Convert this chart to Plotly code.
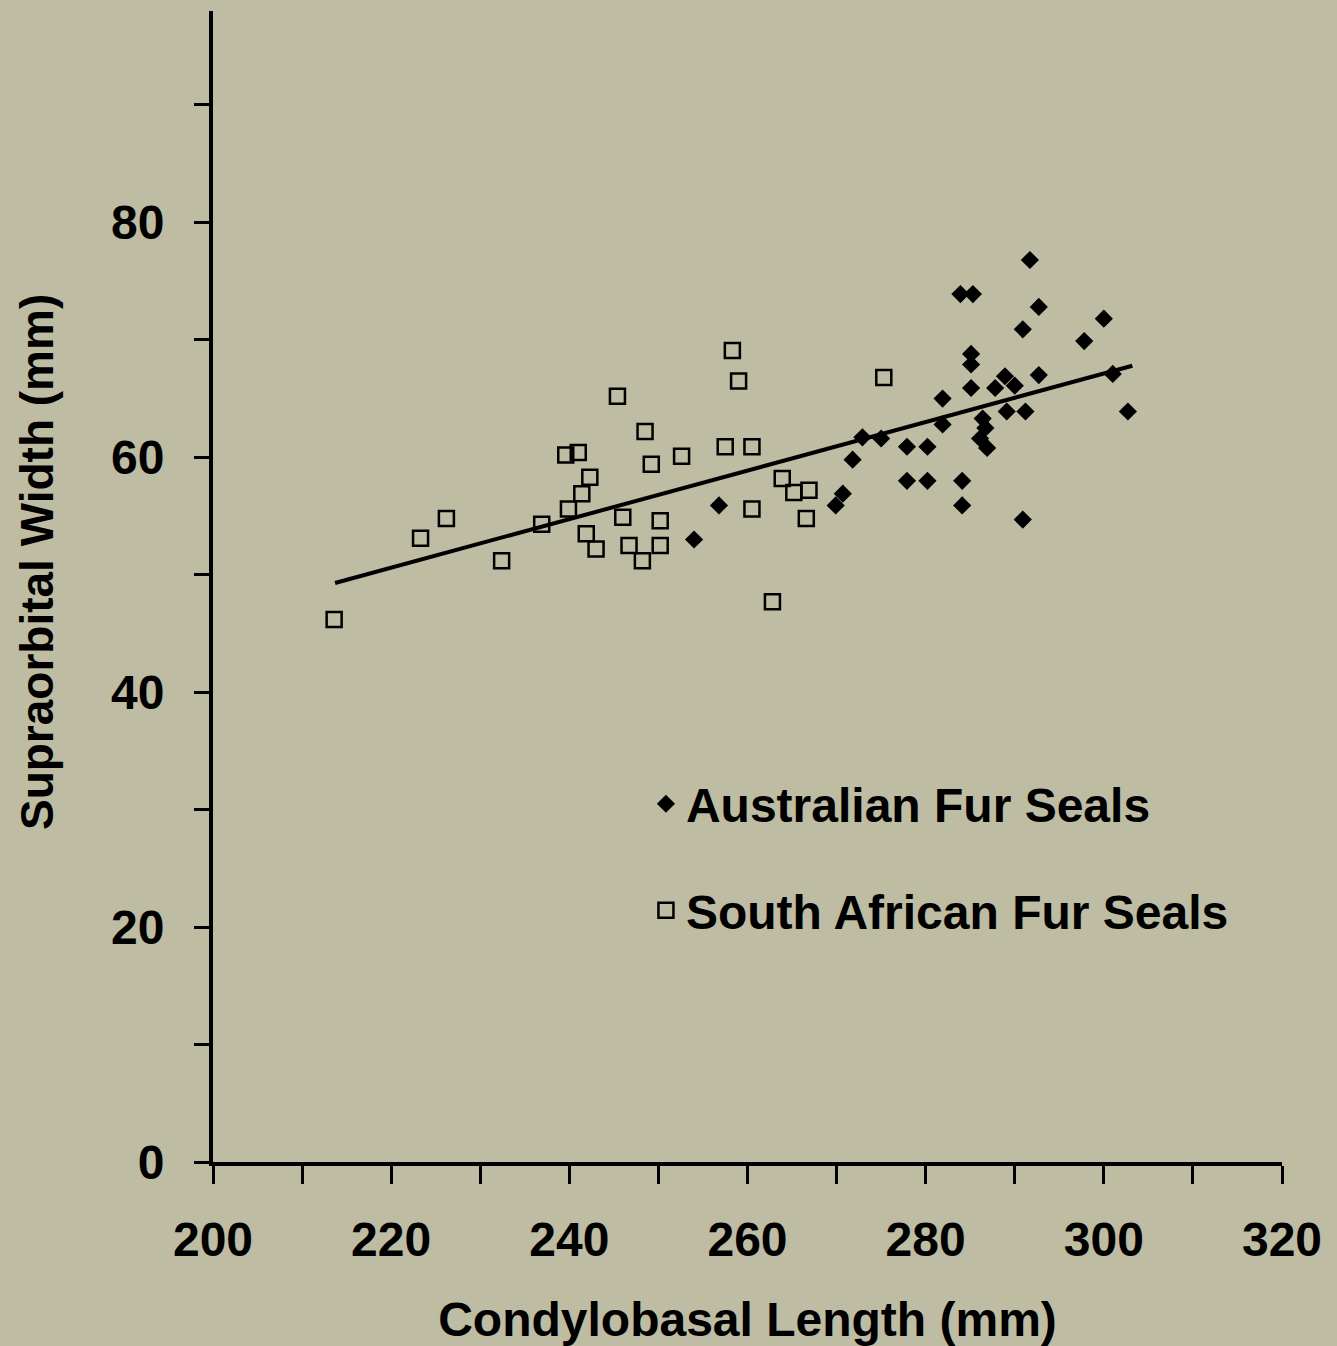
import plotly.graph_objects as go

# Australian Fur Seals (filled diamonds)
aus_x = [254.0, 256.8, 270.7, 269.9, 271.8, 272.9, 275.0, 277.9, 280.2, 277.9,
         280.2, 284.1, 284.1, 281.9, 281.9, 285.1, 285.1, 285.1, 283.9, 285.3,
         291.7, 292.7, 290.9, 300.0, 297.8, 292.7, 301.0, 302.7, 288.9, 287.8,
         290.0, 289.1, 291.2, 286.4, 286.7, 286.1, 286.9, 290.9]
aus_y = [53.0, 55.9, 56.9, 55.9, 59.8, 61.7, 61.6, 60.9, 60.9, 58.0,
         58.0, 58.0, 55.9, 65.0, 62.8, 68.8, 67.9, 65.9, 73.9, 73.9,
         76.8, 72.8, 70.9, 71.8, 69.9, 67.0, 67.1, 63.9, 66.9, 65.9,
         66.1, 63.9, 63.9, 63.3, 62.5, 61.6, 60.8, 54.7]

# South African Fur Seals (open squares)
saf_x = [213.6, 223.3, 226.2, 232.4, 236.9, 239.6, 241.0, 239.9, 241.4, 242.3,
         241.9, 243.0, 245.4, 246.0, 246.7, 248.2, 248.5, 249.2, 250.2, 250.2,
         252.6, 257.5, 258.3, 259.0, 260.5, 260.5, 262.8, 263.9, 265.2, 266.9,
         266.6, 275.3]
saf_y = [46.2, 53.1, 54.8, 51.2, 54.3, 60.2, 60.4, 55.6, 56.9, 58.3,
         53.5, 52.2, 65.2, 54.9, 52.5, 51.2, 62.2, 59.4, 52.5, 54.6,
         60.1, 60.9, 69.1, 66.5, 60.9, 55.6, 47.7, 58.2, 57.0, 57.2,
         54.8, 66.8]

# Regression line endpoints
fit_x = [213.7, 303.2]
fit_y = [49.3, 67.8]

x_ticks = [200, 220, 240, 260, 280, 300, 320]
y_ticks = [0, 20, 40, 60, 80]

BG = "#BEBCA2"
FAMILY = "Liberation Sans, Arial, sans-serif"
FONT = dict(family=FAMILY, color="black", size=48, weight="bold")

fig = go.Figure()
fig.add_trace(go.Scatter(x=fit_x, y=fit_y, mode="lines",
                         line=dict(color="black", width=4), showlegend=False,
                         hoverinfo="skip"))
fig.add_trace(go.Scatter(x=saf_x, y=saf_y, mode="markers", name="South African Fur Seals",
                         marker=dict(symbol="square-open", size=15, color="black",
                                     line=dict(width=2.5, color="black")),
                         legendgroup="b", legendrank=2))
fig.add_trace(go.Scatter(x=aus_x, y=aus_y, mode="markers", name="Australian Fur Seals",
                         marker=dict(symbol="diamond", size=14, color="black"),
                         legendgroup="a", legendrank=1))

fig.update_layout(
    width=1337, height=1346,
    margin=dict(l=213, r=55, t=11, b=184),
    paper_bgcolor=BG, plot_bgcolor=BG,
    font=FONT,
    showlegend=True,
    legend=dict(x=0.405, y=0.344, xanchor="left", yanchor="top",
                bgcolor="rgba(0,0,0,0)", font=dict(size=48, weight="bold", family=FAMILY),
                traceorder="grouped", tracegroupgap=41, itemsizing="trace"),
    annotations=[dict(text="Supraorbital Width (mm)", textangle=-90,
                      xref="paper", yref="paper", x=-0.1646, y=0.5213,
                      xanchor="center", yanchor="middle", showarrow=False,
                      font=dict(size=46, weight="bold", family=FAMILY, color="black"))],
)
fig.update_xaxes(
    range=[200, 320], tickvals=x_ticks, ticktext=[str(v) for v in x_ticks],
    showgrid=False, zeroline=False, showline=True, linecolor="black", linewidth=4,
    ticks="outside", ticklen=18, tickwidth=3, tickcolor="black",
    minor=dict(dtick=10, tick0=200, ticks="outside", ticklen=18, tickwidth=3, tickcolor="black", showgrid=False),
    tickfont=dict(size=48, weight="bold"), ticklabelstandoff=14, automargin=False,
    title=dict(text="Condylobasal Length (mm)", font=dict(size=48, weight="bold"), standoff=44),
)
fig.update_yaxes(
    range=[0, 98], tickvals=y_ticks, ticktext=[str(v) for v in y_ticks],
    showgrid=False, zeroline=False, showline=True, linecolor="black", linewidth=4,
    ticks="outside", ticklen=15, tickwidth=3, tickcolor="black",
    minor=dict(dtick=10, tick0=0, ticks="outside", ticklen=15, tickwidth=3, tickcolor="black", showgrid=False),
    tickfont=dict(size=48, weight="bold"), ticklabelstandoff=20, automargin=False,
)

fig.write_html("out.html", config={"displayModeBar": False},
               post_script="document.body.style.margin='0px';document.body.style.overflow='hidden';")
